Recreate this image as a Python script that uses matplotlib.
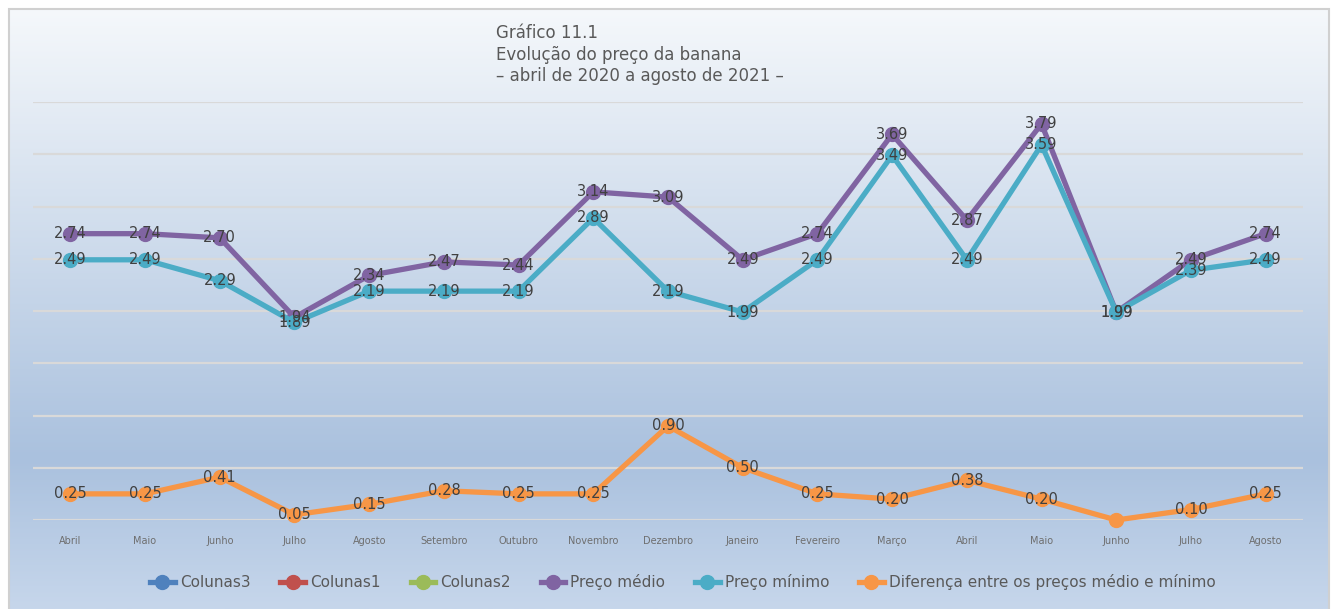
import numpy as np
import matplotlib
matplotlib.use("Agg")
import matplotlib.pyplot as plt
from matplotlib.lines import Line2D
from matplotlib.colors import LinearSegmentedColormap
from matplotlib.patches import Rectangle

months = ["Abril", "Maio", "Junho", "Julho", "Agosto", "Setembro", "Outubro",
          "Novembro", "Dezembro", "Janeiro", "Fevereiro", "Março", "Abril",
          "Maio", "Junho", "Julho", "Agosto"]
preco_medio = [2.74, 2.74, 2.70, 1.94, 2.34, 2.47, 2.44, 3.14, 3.09, 2.49,
               2.74, 3.69, 2.87, 3.79, 1.99, 2.49, 2.74]
preco_minimo = [2.49, 2.49, 2.29, 1.89, 2.19, 2.19, 2.19, 2.89, 2.19, 1.99,
                2.49, 3.49, 2.49, 3.59, 1.99, 2.39, 2.49]
diferenca = [0.25, 0.25, 0.41, 0.05, 0.15, 0.28, 0.25, 0.25, 0.90, 0.50,
             0.25, 0.20, 0.38, 0.20, 0.00, 0.10, 0.25]

W, H = 1334, 609
fig = plt.figure(figsize=(W / 100, H / 100), dpi=100)
fig.patch.set_facecolor("white")

# background gradient
bg = fig.add_axes([9 / W, 0, 1320 / W, 600 / H], zorder=0)
cmap = LinearSegmentedColormap.from_list(
    "bg", [(0.0, "#c6d6eb"), (0.25, "#aac1de"), (1.0, "#f5f8fb")])
grad = np.linspace(0, 1, 256).reshape(-1, 1)
bg.imshow(grad, aspect="auto", cmap=cmap, origin="lower", extent=[0, 1, 0, 1])
bg.set_xlim(0, 1)
bg.set_ylim(0, 1)
bg.axis("off")
fig.patches.append(Rectangle((9 / W, -0.01), 1320 / W, 600 / H + 0.01,
                             transform=fig.transFigure, fill=False,
                             edgecolor="#d0d0d0", linewidth=1.5, zorder=1))

ax = fig.add_axes([33 / W, (H - 520) / H, 1270 / W, 418 / H], zorder=2)
ax.patch.set_alpha(0)
x = np.arange(len(months))
ax.set_xlim(-0.5, len(months) - 0.5)
ax.set_ylim(0, 4)
ax.set_yticks(np.arange(0, 4.01, 0.5))
ax.yaxis.grid(True, color="#d9d9d9", linewidth=1.6)
ax.set_axisbelow(True)
for s in ax.spines.values():
    s.set_visible(False)
ax.tick_params(axis="y", left=False, labelleft=False)
ax.tick_params(axis="x", bottom=False, pad=8)
ax.set_xticks(x)
ax.set_xticklabels(months, fontsize=7, color="#6e6e6e")

lw = 3.8
ms = 10
series = [
    (preco_medio, "#8064a2", "Preço médio"),
    (preco_minimo, "#4bacc6", "Preço mínimo"),
    (diferenca, "#f79646", "Diferença entre os preços médio e mínimo"),
]
for vals, col, lab in series:
    ax.plot(x, vals, color=col, linewidth=lw, marker="o", markersize=ms,
            solid_joinstyle="round", zorder=3, clip_on=False)

for vals, col, lab in series:
    for xi, v in zip(x, vals):
        if v == 0:
            continue
        ax.text(xi, v, f"{v:.2f}", ha="center", va="center", fontsize=10.5,
                color="#404040", zorder=5)

fig.text(496 / W, 1 - 24 / H,
         "Gráfico 11.1\nEvolução do preço da banana\n– abril de 2020 a agosto de 2021 –",
         ha="left", va="top", fontsize=12, color="#595959", linespacing=1.25)

legend_items = [
    ("#4f81bd", "Colunas3"), ("#c0504d", "Colunas1"), ("#9bbb59", "Colunas2"),
    ("#8064a2", "Preço médio"), ("#4bacc6", "Preço mínimo"),
    ("#f79646", "Diferença entre os preços médio e mínimo"),
]
handles = [Line2D([0], [0], color=c, linewidth=lw, marker="o", markersize=ms)
           for c, _ in legend_items]
fig.legend(handles, [l for _, l in legend_items], loc="center",
           bbox_to_anchor=(683 / W, 1 - 582 / H), ncol=6, frameon=False,
           fontsize=11, labelcolor="#595959", handlelength=1.6,
           handletextpad=0.35, columnspacing=1.95)

fig.savefig("out.png", dpi=100)
